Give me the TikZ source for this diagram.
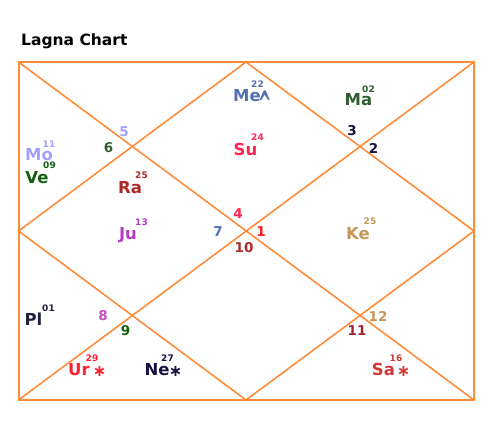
\documentclass[tikz,border=0pt]{standalone}
\usepackage{fontspec}
\setmainfont{DejaVu Sans}
\usetikzlibrary{positioning}

\definecolor{chartline}{RGB}{255,140,58}
\definecolor{meblue}{RGB}{80,112,176}
\definecolor{magreen}{RGB}{46,94,46}
\definecolor{molav}{RGB}{160,160,255}
\definecolor{vegreen}{RGB}{16,96,16}
\definecolor{rared}{RGB}{176,40,40}
\definecolor{supink}{RGB}{255,34,85}
\definecolor{jupurple}{RGB}{176,64,192}
\definecolor{ketan}{RGB}{200,150,90}
\definecolor{plnavy}{RGB}{32,32,64}
\definecolor{urred}{RGB}{255,32,48}
\definecolor{nenavy}{RGB}{26,16,64}
\definecolor{sared}{RGB}{208,56,56}
\definecolor{sixgreen}{RGB}{48,96,48}
\definecolor{onered}{RGB}{255,26,26}
\definecolor{eightmag}{RGB}{192,80,192}
\definecolor{elevenred}{RGB}{160,32,48}

\begin{document}
\begin{tikzpicture}[x=1pt, y=-1pt,
    grid/.style={draw=chartline, line width=1.6pt},
    frame/.style={draw=chartline, line width=2pt},
    title/.style={font=\bfseries\fontsize{15.5}{15.5}\selectfont, inner sep=0pt, anchor=base west},
    planet/.style={font=\bfseries\fontsize{16.5}{16.5}\selectfont, inner sep=0pt, anchor=base},
    deg/.style={font=\bfseries\fontsize{9}{9}\selectfont, inner sep=0pt},
    house/.style={font=\bfseries\fontsize{13.5}{13.5}\selectfont, inner sep=0pt},
    retro/.style={font=\bfseries\fontsize{16}{16}\selectfont, inner sep=0pt}
  ]
    \useasboundingbox (0,0) rectangle (497,441);

    % chart frame
    \coordinate (tl) at (18.5,62);
    \coordinate (tr) at (474,62);
    \coordinate (br) at (474,400);
    \coordinate (bl) at (18.5,400);
    \coordinate (tm) at (246,62);
    \coordinate (rm) at (474,231);
    \coordinate (bm) at (246,400);
    \coordinate (lm) at (18.5,231);

    \draw[frame] (tl) rectangle (br);
    \draw[grid] (tl) -- (br);
    \draw[grid] (tr) -- (bl);
    \draw[grid] (tm) -- (rm) -- (bm) -- (lm) -- cycle;

    \node[title] (head) at (21,46) {Lagna Chart};

    % planets
    \node[planet, text=meblue]   (me) at (247,102)   {Me};
    \node[retro, text=meblue, anchor=north] (mecaret) at (265.5,91) {\scalebox{1}[2.2]{\^{}}};
    \node[planet, text=magreen]  (ma) at (358.5,106) {Ma};
    \node[planet, text=molav]    (mo) at (39,160.5)  {Mo};
    \node[planet, text=vegreen]  (ve) at (37,183.5)  {Ve};
    \node[planet, text=rared]    (ra) at (130,193)   {Ra};
    \node[planet, text=supink]   (su) at (245.5,155) {Su};
    \node[planet, text=jupurple] (ju) at (128,239)   {Ju};
    \node[planet, text=ketan]    (ke) at (358,239)   {Ke};
    \node[planet, text=plnavy]   (pl) at (33.5,325)  {Pl};
    \node[planet, text=urred]    (ur) at (79,375)    {Ur};
    \node[planet, text=nenavy]   (ne) at (157,375.5) {Ne};
    \node[planet, text=sared]    (sa) at (383.5,375.5) {Sa};

    % degrees
    \node[deg, text=meblue]   (medeg) at (257.5,84.5)  {22};
    \node[deg, text=magreen]  (madeg) at (368.5,89)    {02};
    \node[deg, text=molav]    (modeg) at (49,144)      {11};
    \node[deg, text=vegreen]  (vedeg) at (49.5,165.5)  {09};
    \node[deg, text=rared]    (radeg) at (141.5,175)   {25};
    \node[deg, text=supink]   (sudeg) at (257.5,137.5) {24};
    \node[deg, text=jupurple] (judeg) at (141.5,222.5) {13};
    \node[deg, text=ketan]    (kedeg) at (370,221.5)   {25};
    \node[deg, text=plnavy]   (pldeg) at (48.5,308.5)  {01};
    \node[deg, text=urred]    (urdeg) at (92,358.5)    {29};
    \node[deg, text=nenavy]   (nedeg) at (167.5,358.5) {27};
    \node[deg, text=sared]    (sadeg) at (396,358.5)   {16};

    % retrograde marks
    \node[retro, text=urred]  (urstar) at (99.5,371.5)  {∗};
    \node[retro, text=nenavy] (nestar) at (175.5,371.5) {∗};
    \node[retro, text=sared]  (sastar) at (403.5,371.5) {∗};

    % house numbers
    \node[house, text=molav]     (h5)  at (124,132)    {5};
    \node[house, text=sixgreen]  (h6)  at (108.5,148)  {6};
    \node[house, text=nenavy]    (h3)  at (352,130.5)  {3};
    \node[house, text=nenavy]    (h2)  at (373.5,148.5) {2};
    \node[house, text=supink]    (h4)  at (238,214)    {4};
    \node[house, text=meblue]    (h7)  at (218,232)    {7};
    \node[house, text=onered]    (h1)  at (261,231.5)  {1};
    \node[house, text=rared]     (h10) at (244,248)    {10};
    \node[house, text=eightmag]  (h8)  at (103,315.5)  {8};
    \node[house, text=vegreen]   (h9)  at (125.5,330.5) {9};
    \node[house, text=ketan]     (h12) at (378,316.5)  {12};
    \node[house, text=elevenred] (h11) at (357,330.5)  {11};
\end{tikzpicture}
\end{document}
